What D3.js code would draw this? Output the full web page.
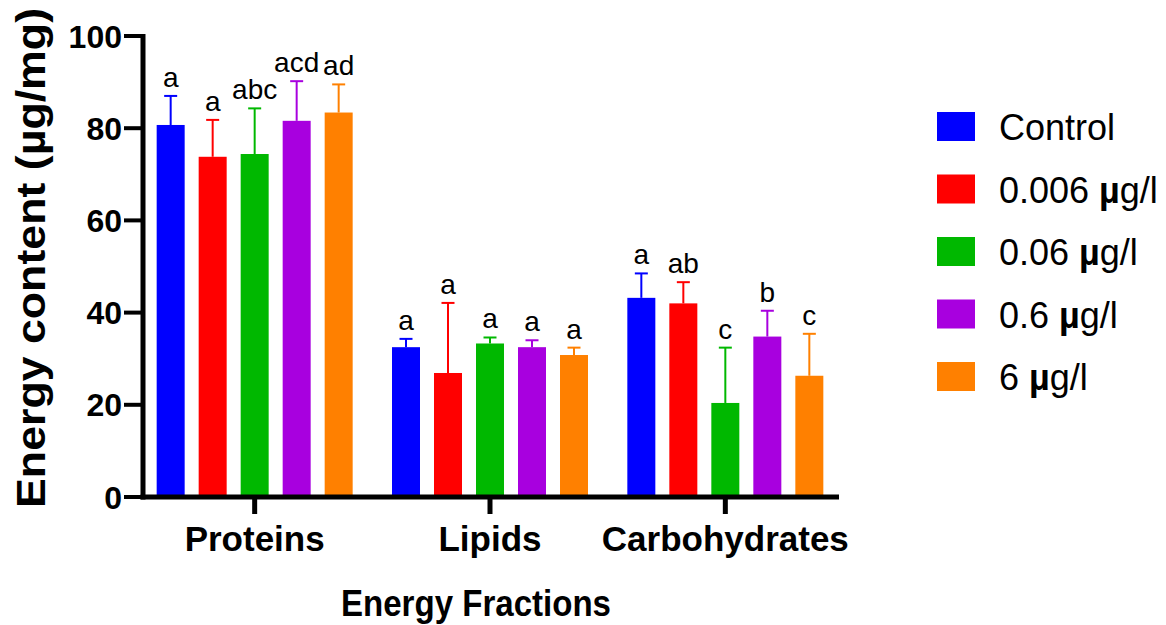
<!DOCTYPE html>
<html>
<head>
<meta charset="utf-8">
<script src="https://cdn.jsdelivr.net/npm/d3@7"></script>
<style>
  html, body { margin: 0; padding: 0; background: #fff; }
  svg { display: block; }
  text { font-family: "Liberation Sans", Arial, Helvetica, sans-serif; fill: #000; }
</style>
</head>
<body>
<svg id="chart" width="1166" height="625"></svg>
<script>
// Energy fractions per treatment group (mean and upper SD, µg/mg)
const fractions = ["Proteins", "Lipids", "Carbohydrates"];
const groups = ["Control", "0.006 µg/l", "0.06 µg/l", "0.6 µg/l", "6 µg/l"];
const colors = ["#0000FF", "#FF0000", "#00B800", "#A800DF", "#FF8000"];

const controlMean = [80.7, 32.5, 43.2];
const dose0006Mean = [73.8, 26.9, 42.0];
const dose006Mean = [74.4, 33.3, 20.4];
const dose06Mean = [81.6, 32.5, 34.8];
const dose6Mean = [83.4, 30.8, 26.3];

const controlSD = [6.3, 1.8, 5.3];
const dose0006SD = [8.0, 15.2, 4.6];
const dose006SD = [9.9, 1.3, 12.0];
const dose06SD = [8.6, 1.5, 5.6];
const dose6SD = [6.1, 1.6, 9.1];

// Significance letters (rows: fractions, columns: groups)
const letters = [
  ["a", "a", "abc", "acd", "ad"],
  ["a", "a", "a", "a", "a"],
  ["a", "ab", "c", "b", "c"]
];

const yTicks = [0, 20, 40, 60, 80, 100];

const means = [controlMean, dose0006Mean, dose006Mean, dose06Mean, dose6Mean];
const sds = [controlSD, dose0006SD, dose006SD, dose06SD, dose6SD];

const rows = [];
fractions.forEach((f, fi) => {
  groups.forEach((g, gi) => {
    rows.push({ fraction: f, group: g, gi, mean: means[gi][fi], sd: sds[gi][fi], letter: letters[fi][gi] });
  });
});

const svg = d3.select("#chart");

const axisLeftX = 143, axisRightX = 839;
const y = d3.scaleLinear().domain([0, 100]).range([497, 36]);
const x0 = d3.scaleBand().domain(fractions).range([137, 843]);
const x1 = d3.scaleBand().domain(groups).range([-98, 98]).paddingInner(1 / 3).paddingOuter(0);
const color = d3.scaleOrdinal().domain(groups).range(colors);

// Bars
const g = svg.append("g");
g.selectAll("rect.bar").data(rows).join("rect")
  .attr("class", "bar")
  .attr("x", d => x0(d.fraction) + x0.bandwidth() / 2 + x1(d.group))
  .attr("width", x1.bandwidth())
  .attr("y", d => y(d.mean))
  .attr("height", d => y(0) - y(d.mean))
  .attr("fill", d => color(d.group));

// Upper error bars
const cx = d => x0(d.fraction) + x0.bandwidth() / 2 + x1(d.group) + x1.bandwidth() / 2;
g.selectAll("line.err").data(rows).join("line")
  .attr("class", "err")
  .attr("x1", cx).attr("x2", cx)
  .attr("y1", d => y(d.mean)).attr("y2", d => y(d.mean + d.sd))
  .attr("stroke", d => color(d.group)).attr("stroke-width", 2);
g.selectAll("line.cap").data(rows).join("line")
  .attr("class", "cap")
  .attr("x1", d => cx(d) - 6.5).attr("x2", d => cx(d) + 6.5)
  .attr("y1", d => y(d.mean + d.sd)).attr("y2", d => y(d.mean + d.sd))
  .attr("stroke", d => color(d.group)).attr("stroke-width", 2);

// Letters above error bars
g.selectAll("text.letter").data(rows).join("text")
  .attr("class", "letter")
  .attr("x", cx)
  .attr("y", d => y(d.mean + d.sd) - 9)
  .attr("text-anchor", "middle")
  .attr("font-size", 28)
  .text(d => d.letter);

// Y axis
const yAxis = svg.append("g");
yAxis.append("line")
  .attr("x1", axisLeftX).attr("x2", axisLeftX)
  .attr("y1", y(100) - 2).attr("y2", y(0) + 2.5)
  .attr("stroke", "#000").attr("stroke-width", 5);
yAxis.selectAll("line.tick").data(yTicks).join("line")
  .attr("class", "tick")
  .attr("x1", axisLeftX - 19).attr("x2", axisLeftX)
  .attr("y1", d => y(d)).attr("y2", d => y(d))
  .attr("stroke", "#000").attr("stroke-width", 4);
yAxis.selectAll("text").data(yTicks).join("text")
  .attr("x", axisLeftX - 21)
  .attr("y", d => y(d))
  .attr("dy", "0.36em")
  .attr("text-anchor", "end")
  .attr("font-size", 32)
  .attr("font-weight", "bold")
  .text(d => d);

// X axis
const xAxis = svg.append("g");
xAxis.append("line")
  .attr("x1", axisLeftX - 2.5).attr("x2", axisRightX)
  .attr("y1", y(0)).attr("y2", y(0))
  .attr("stroke", "#000").attr("stroke-width", 5);
xAxis.selectAll("line.tick").data(fractions).join("line")
  .attr("class", "tick")
  .attr("x1", d => x0(d) + x0.bandwidth() / 2).attr("x2", d => x0(d) + x0.bandwidth() / 2)
  .attr("y1", y(0)).attr("y2", y(0) + 17)
  .attr("stroke", "#000").attr("stroke-width", 5);
xAxis.selectAll("text").data(fractions).join("text")
  .attr("x", d => x0(d) + x0.bandwidth() / 2)
  .attr("y", 551)
  .attr("text-anchor", "middle")
  .attr("font-size", 35)
  .attr("font-weight", "bold")
  .text(d => d);

// Axis titles
svg.append("text")
  .attr("transform", "translate(45,258) rotate(-90)")
  .attr("text-anchor", "middle")
  .attr("font-size", 40)
  .attr("font-weight", "bold")
  .attr("textLength", 500)
  .attr("lengthAdjust", "spacingAndGlyphs")
  .text("Energy content (µg/mg)");

svg.append("text")
  .attr("x", 476).attr("y", 616)
  .attr("text-anchor", "middle")
  .attr("font-size", 36)
  .attr("font-weight", "bold")
  .attr("textLength", 270)
  .attr("lengthAdjust", "spacingAndGlyphs")
  .text("Energy Fractions");

// Legend
const legend = svg.append("g").attr("transform", "translate(937,112)");
const item = legend.selectAll("g").data(groups).join("g")
  .attr("transform", (d, i) => `translate(0,${i * 62.5})`);
item.append("rect")
  .attr("width", 38).attr("height", 29)
  .attr("fill", d => color(d));
item.append("text")
  .attr("x", 62).attr("y", 28)
  .attr("font-size", 36)
  .each(function (d) {
    const t = d3.select(this);
    const m = d.indexOf("µ");
    if (m < 0) { t.text(d); return; }
    t.append("tspan").text(d.slice(0, m));
    t.append("tspan").attr("font-weight", "bold").text("µ");
    t.append("tspan").text(d.slice(m + 1));
  });
</script>
</body>
</html>
